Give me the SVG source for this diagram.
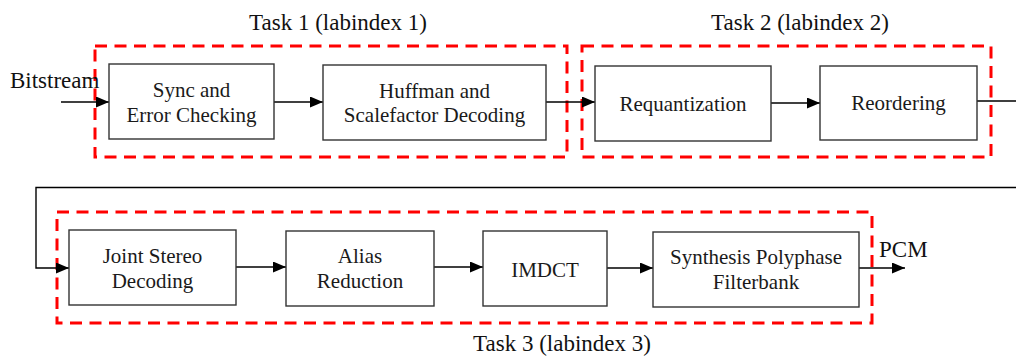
<svg xmlns="http://www.w3.org/2000/svg" width="1016" height="357" viewBox="0 0 1016 357">
  <defs>
    <marker id="arrow" viewBox="0 0 13 11" refX="13" refY="5.5" markerWidth="13" markerHeight="11" markerUnits="userSpaceOnUse" orient="auto">
      <path d="M0,0 L13,5.5 L0,11 Z" fill="#000"/>
    </marker>
    <style>
      .box { fill: #fff; stroke: #333; stroke-width: 1.4; }
      .task { fill: none; stroke: #ff0000; stroke-width: 3; stroke-dasharray: 12 7.5; }
      .conn { fill: none; stroke: #000; stroke-width: 1.4; }
      .lbl { font-family: "Liberation Serif", "Times New Roman", serif; font-size: 21px; fill: #1a1a1a; text-anchor: middle; }
      .big { font-family: "Liberation Serif", "Times New Roman", serif; font-size: 23px; fill: #111; }
    </style>
  </defs>
  <rect width="1016" height="357" fill="#fff"/>

  <!-- task groupings -->
  <g id="tasks">
    <rect class="task" x="95" y="46" width="472" height="111"/>
    <rect class="task" x="582" y="46" width="409" height="111"/>
    <rect class="task" x="57" y="212" width="815" height="111"/>
    <text class="big" x="338" y="30" text-anchor="middle">Task 1 (labindex 1)</text>
    <text class="big" x="800" y="30" text-anchor="middle">Task 2 (labindex 2)</text>
    <text class="big" x="562" y="351" text-anchor="middle">Task 3 (labindex 3)</text>
  </g>

  <!-- connectors -->
  <g id="connectors">
    <line class="conn" x1="61" y1="102" x2="109" y2="102" marker-end="url(#arrow)"/>
    <line class="conn" x1="274" y1="102" x2="323" y2="102" marker-end="url(#arrow)"/>
    <line class="conn" x1="546" y1="102" x2="595" y2="102" marker-end="url(#arrow)"/>
    <line class="conn" x1="771" y1="103" x2="820" y2="103" marker-end="url(#arrow)"/>
    <path class="conn" d="M977,101 H1030 V187.5 H36 V268 H69" marker-end="url(#arrow)"/>
    <line class="conn" x1="236" y1="267" x2="286" y2="267" marker-end="url(#arrow)"/>
    <line class="conn" x1="434" y1="267" x2="483" y2="267" marker-end="url(#arrow)"/>
    <line class="conn" x1="607" y1="268" x2="653" y2="268" marker-end="url(#arrow)"/>
    <line class="conn" x1="859" y1="268" x2="905" y2="268" marker-end="url(#arrow)"/>
  </g>

  <text class="big" x="10" y="88">Bitstream</text>
  <text class="big" x="879" y="257">PCM</text>

  <g id="sync">
    <rect class="box" x="109" y="64" width="165" height="75"/>
    <text class="lbl" x="191.5" y="97">Sync and</text>
    <text class="lbl" x="191.5" y="122">Error Checking</text>
  </g>
  <g id="huffman">
    <rect class="box" x="323" y="65" width="223" height="75"/>
    <text class="lbl" x="434.5" y="98">Huffman and</text>
    <text class="lbl" x="434.5" y="122">Scalefactor Decoding</text>
  </g>
  <g id="requantization">
    <rect class="box" x="595" y="66" width="176" height="75"/>
    <text class="lbl" x="683" y="110.5">Requantization</text>
  </g>
  <g id="reordering">
    <rect class="box" x="820" y="66" width="157" height="74"/>
    <text class="lbl" x="898.5" y="110">Reordering</text>
  </g>
  <g id="joint-stereo">
    <rect class="box" x="69" y="230" width="167" height="75"/>
    <text class="lbl" x="152.5" y="263">Joint Stereo</text>
    <text class="lbl" x="152.5" y="287.5">Decoding</text>
  </g>
  <g id="alias">
    <rect class="box" x="286" y="231" width="148" height="75"/>
    <text class="lbl" x="360" y="263">Alias</text>
    <text class="lbl" x="360" y="287.5">Reduction</text>
  </g>
  <g id="imdct">
    <rect class="box" x="483" y="231" width="124" height="75"/>
    <text class="lbl" x="545" y="276.5">IMDCT</text>
  </g>
  <g id="synthesis">
    <rect class="box" x="653" y="232" width="206" height="75"/>
    <text class="lbl" x="756" y="264">Synthesis Polyphase</text>
    <text class="lbl" x="756" y="288.5">Filterbank</text>
  </g>
</svg>
